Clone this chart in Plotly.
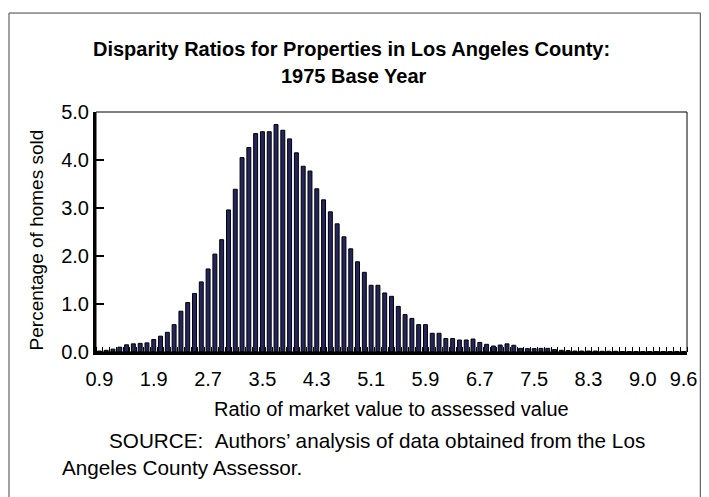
import plotly.graph_objects as go

# ---- data ----
pct_homes = [0.02, 0.035, 0.06, 0.10, 0.15, 0.17, 0.18, 0.19, 0.26, 0.33,
             0.41, 0.57, 0.85, 1.03, 1.22, 1.46, 1.73, 2.04, 2.34, 2.96,
             3.39, 4.05, 4.26, 4.55, 4.59, 4.59, 4.74, 4.62,
             4.44, 4.15, 3.87, 3.77, 3.40, 3.17, 2.92, 2.67, 2.40, 2.15,
             1.88, 1.66, 1.39, 1.39, 1.23, 1.16, 0.95, 0.78, 0.70, 0.57,
             0.57, 0.39, 0.39, 0.28, 0.28, 0.25, 0.25, 0.27,
             0.20, 0.16, 0.125, 0.145, 0.17, 0.14, 0.076, 0.07, 0.07, 0.076,
             0.076, 0.05, 0.035,
             0.03, 0.02, 0.02, 0.02, 0.02, 0.015, 0.015, 0.015, 0.01, 0.01,
             0.01, 0.01, 0.01, 0.01, 0.01, 0.01, 0.01, 0.01]
bin_index = list(range(len(pct_homes)))
tick_positions = [0, 8, 16, 24, 32, 40, 48, 56, 64, 72, 80, 86]
tick_labels = ["0.9", "1.9", "2.7", "3.5", "4.3", "5.1", "5.9", "6.7",
               "7.5", "8.3", "9.0", "9.6"]
y_ticks = [0, 1, 2, 3, 4, 5]

W, H = 709, 497
L, R, T, B = 95.6, 687.2, 111.7, 352.3
FONT = "Liberation Sans, Arial, sans-serif"
FS = 20

def px(x):
    return (x - L) / (R - L)

def py(y):
    return (B - y) / (B - T)

fig = go.Figure()
fig.add_trace(go.Bar(
    x=bin_index, y=pct_homes, width=0.58,
    marker=dict(color="#24245e", line=dict(color="black", width=1)),
))

fig.update_layout(
    width=W, height=H,
    margin=dict(l=L, r=W - R, t=T, b=H - B),
    paper_bgcolor="white", plot_bgcolor="white",
    showlegend=False,
    font=dict(family=FONT, size=FS, color="black"),
)
fig.update_xaxes(
    range=[-0.5, len(pct_homes) - 0.5],
    tickmode="array", tickvals=tick_positions, ticktext=tick_labels,
    ticks="", showgrid=False, zeroline=False,
    showline=True, linecolor="black", linewidth=3,
    minor=dict(tickmode="linear", tick0=-0.5, dtick=1, ticks="inside",
               ticklen=5, tickcolor="black", tickwidth=1, showgrid=False),
    tickfont=dict(size=FS), ticklabelstandoff=7,
)
fig.update_yaxes(
    range=[0, 5], tickmode="array", tickvals=y_ticks,
    tickformat=".1f", ticks="inside", ticklen=8, tickwidth=2,
    tickcolor="black", showgrid=False, zeroline=False,
    showline=True, linecolor="black", linewidth=3,
    tickfont=dict(size=FS),
)

# thin top/right frame of plot area
fig.add_shape(type="rect", xref="paper", yref="paper", x0=0, x1=1, y0=0, y1=1,
              line=dict(color="black", width=1))
# outer border
fig.add_shape(type="rect", xref="paper", yref="paper",
              x0=px(8.5), x1=px(700.5), y0=py(510), y1=py(12.5),
              line=dict(color="#444444", width=1))

base = dict(xref="paper", yref="paper", showarrow=False)
reg = dict(family=FONT, size=FS, color="black")
src = dict(family=FONT, size=20.7, color="black")
fig.add_annotation(text="<b>Disparity Ratios for Properties in Los Angeles County:</b>",
                   x=px(351), y=py(49), xanchor="center", yanchor="middle",
                   font=reg, **base)
fig.add_annotation(text="<b>1975 Base Year</b>",
                   x=px(354), y=py(76), xanchor="center", yanchor="middle",
                   font=reg, **base)
fig.add_annotation(text="Percentage of homes sold", textangle=-90,
                   x=px(37), y=py(240), xanchor="center", yanchor="middle",
                   font=dict(family=FONT, size=19, color="black"), **base)
fig.add_annotation(text="Ratio of market value to assessed value",
                   x=px(391), y=py(409), xanchor="center", yanchor="middle",
                   font=reg, **base)
fig.add_annotation(text="SOURCE:\u00a0\u00a0Authors\u2019 analysis of data obtained from the Los",
                   x=px(107), y=py(441), xanchor="left", yanchor="middle",
                   font=src, **base)
fig.add_annotation(text="Angeles County Assessor.",
                   x=px(60), y=py(468), xanchor="left", yanchor="middle",
                   font=src, **base)

fig.write_html("out.html", post_script="document.body.style.margin='0px';",
               config={"displayModeBar": False})
